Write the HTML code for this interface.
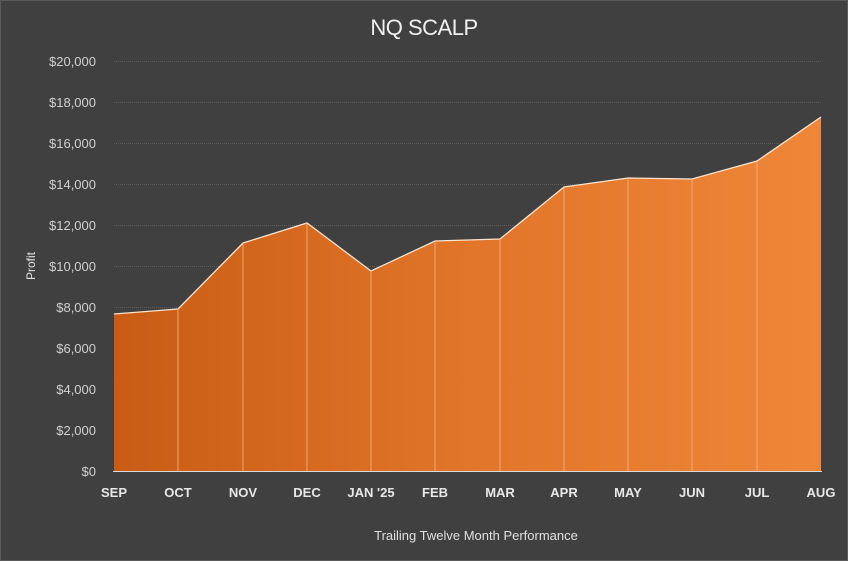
<!DOCTYPE html>
<html><head><style>
html,body{margin:0;padding:0;background:#404040;}
svg{display:block;font-family:"Liberation Sans",sans-serif;}
</style></head><body>
<svg width="848" height="561" viewBox="0 0 848 561" xmlns="http://www.w3.org/2000/svg">
<defs>
<linearGradient id="g" x1="0" x2="1" y1="0" y2="0">
<stop offset="0" stop-color="#c95c14"/>
<stop offset="0.5" stop-color="#e17529"/>
<stop offset="1" stop-color="#ef8638"/>
</linearGradient>
</defs>
<rect x="0" y="0" width="848" height="561" fill="#404040"/>
<rect x="0.5" y="0.5" width="847" height="560" fill="none" stroke="#5a5a5a"/>
<text x="424" y="35" text-anchor="middle" font-size="22" fill="#f0f0f0" letter-spacing="-0.5">NQ SCALP</text>
<g stroke="#5e5e5e" stroke-width="1" stroke-dasharray="1 1">
<line x1="114" x2="821" y1="61.5" y2="61.5"/>
<line x1="114" x2="821" y1="102.5" y2="102.5"/>
<line x1="114" x2="821" y1="143.5" y2="143.5"/>
<line x1="114" x2="821" y1="184.5" y2="184.5"/>
<line x1="114" x2="821" y1="225.5" y2="225.5"/>
<line x1="114" x2="821" y1="266.5" y2="266.5"/>
<line x1="114" x2="821" y1="307.5" y2="307.5"/>
<line x1="114" x2="821" y1="348.5" y2="348.5"/>
<line x1="114" x2="821" y1="389.5" y2="389.5"/>
<line x1="114" x2="821" y1="430.5" y2="430.5"/>
</g>
<g font-size="13" fill="#d0d0d0" text-anchor="end">
<text x="96" y="66">$20,000</text>
<text x="96" y="107">$18,000</text>
<text x="96" y="148">$16,000</text>
<text x="96" y="189">$14,000</text>
<text x="96" y="230">$12,000</text>
<text x="96" y="271">$10,000</text>
<text x="96" y="312">$8,000</text>
<text x="96" y="353">$6,000</text>
<text x="96" y="394">$4,000</text>
<text x="96" y="435">$2,000</text>
<text x="96" y="476">$0</text>
</g>
<polygon fill="url(#g)" points="114,471 114,314 178,309 243,243 307,223 371,271 435,241 500,239 564,187 628,178 692,179 757,161 821,117 821,471"/>
<polyline fill="none" stroke="#fbe3cf" stroke-width="1.3" points="114,314 178,309 243,243 307,223 371,271 435,241 500,239 564,187 628,178 692,179 757,161 821,117"/>
<g stroke="#f5b487" stroke-width="1" opacity="0.8">
<line x1="178" x2="178" y1="309" y2="471"/>
<line x1="243" x2="243" y1="243" y2="471"/>
<line x1="307" x2="307" y1="223" y2="471"/>
<line x1="371" x2="371" y1="271" y2="471"/>
<line x1="435" x2="435" y1="241" y2="471"/>
<line x1="500" x2="500" y1="239" y2="471"/>
<line x1="564" x2="564" y1="187" y2="471"/>
<line x1="628" x2="628" y1="178" y2="471"/>
<line x1="692" x2="692" y1="179" y2="471"/>
<line x1="757" x2="757" y1="161" y2="471"/>
</g>
<line x1="113" x2="822" y1="471.5" y2="471.5" stroke="#d9d9d9" stroke-width="1"/>
<g font-size="13" font-weight="bold" fill="#e8e8e8" text-anchor="middle">
<text x="114" y="497">SEP</text>
<text x="178" y="497">OCT</text>
<text x="243" y="497">NOV</text>
<text x="307" y="497">DEC</text>
<text x="371" y="497">JAN '25</text>
<text x="435" y="497">FEB</text>
<text x="500" y="497">MAR</text>
<text x="564" y="497">APR</text>
<text x="628" y="497">MAY</text>
<text x="692" y="497">JUN</text>
<text x="757" y="497">JUL</text>
<text x="821" y="497">AUG</text>
</g>
<text x="476" y="540" text-anchor="middle" font-size="13" fill="#e0e0e0">Trailing Twelve Month Performance</text>
<text transform="translate(35,266) rotate(-90)" text-anchor="middle" font-size="12" fill="#e0e0e0">Profit</text>
</svg>
</body></html>
